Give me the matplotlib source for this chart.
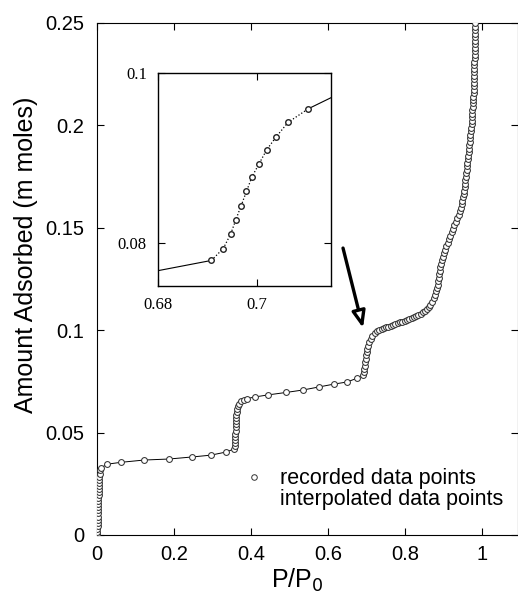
import matplotlib
matplotlib.use("Agg")
import matplotlib.pyplot as plt
from matplotlib.lines import Line2D

plt.rcParams['font.family'] = ['Liberation Sans', 'DejaVu Sans']

# ---- recorded data (P/P0, amount adsorbed) ----
x_step1 = [0.0005, 0.0010, 0.0012, 0.0015, 0.0018, 0.0020, 0.0022, 0.0025, 0.0027, 0.0030,
           0.0032, 0.0035, 0.0037, 0.0040, 0.0043, 0.0046, 0.0050, 0.0054, 0.0058, 0.0063,
           0.0070, 0.0080, 0.0100]
y_step1 = [0.0005, 0.0015, 0.0030, 0.0045, 0.0060, 0.0075, 0.0090, 0.0105, 0.0120, 0.0135,
           0.0150, 0.0165, 0.0180, 0.0195, 0.0210, 0.0225, 0.0240, 0.0255, 0.0270, 0.0285,
           0.0300, 0.0315, 0.0328]

x_plat1 = [0.027, 0.063, 0.122, 0.187, 0.247, 0.296, 0.335, 0.356]
y_plat1 = [0.0346, 0.0355, 0.0366, 0.0371, 0.0381, 0.0390, 0.0405, 0.0420]

x_step2 = [0.3580, 0.3585, 0.3590, 0.3592, 0.3595, 0.3600, 0.3603, 0.3607, 0.3610, 0.3615,
           0.3620, 0.3630, 0.3640, 0.3660, 0.3690]
y_step2 = [0.0435, 0.0450, 0.0465, 0.0480, 0.0495, 0.0510, 0.0525, 0.0540, 0.0555, 0.0570,
           0.0585, 0.0600, 0.0615, 0.0630, 0.0642]

x_plat2 = [0.375, 0.381, 0.390, 0.410, 0.444, 0.491, 0.535, 0.577, 0.616, 0.649, 0.675]
y_plat2 = [0.0652, 0.0660, 0.0666, 0.0674, 0.0684, 0.0696, 0.0708, 0.0723, 0.0737, 0.0747, 0.0765]

x_step3 = [0.6908, 0.6932, 0.6947, 0.6957, 0.6968, 0.6979, 0.6990, 0.7004, 0.7020, 0.7039,
           0.7063, 0.7104]
y_step3 = [0.0780, 0.0794, 0.0811, 0.0827, 0.0844, 0.0861, 0.0878, 0.0893, 0.0910, 0.0925,
           0.0942, 0.0958]

x_plat3 = [0.715, 0.721, 0.727, 0.733, 0.739, 0.745, 0.751, 0.757, 0.763, 0.769,
           0.775, 0.781, 0.787, 0.793, 0.799, 0.805, 0.811, 0.817, 0.823, 0.829,
           0.835, 0.841, 0.847, 0.852, 0.857, 0.862, 0.866, 0.870]
y_plat3 = [0.0971, 0.0988, 0.0995, 0.1001, 0.1006, 0.1010, 0.1014, 0.1018, 0.1022, 0.1026,
           0.1030, 0.1034, 0.1038, 0.1042, 0.1046, 0.1050, 0.1054, 0.1058, 0.1063, 0.1068,
           0.1074, 0.1080, 0.1087, 0.1095, 0.1104, 0.1114, 0.1125, 0.1138]

x_rise = [0.875, 0.878, 0.881, 0.883, 0.885, 0.887, 0.888, 0.889, 0.891, 0.892,
          0.894, 0.896, 0.898, 0.901, 0.904, 0.907, 0.911, 0.914, 0.918, 0.921,
          0.925, 0.928, 0.932, 0.935, 0.939, 0.942, 0.945, 0.947, 0.949, 0.951,
          0.952, 0.953, 0.955, 0.956, 0.957, 0.958, 0.959, 0.960, 0.961, 0.962,
          0.963, 0.964, 0.965, 0.966, 0.967, 0.968, 0.969, 0.970, 0.971, 0.972,
          0.973, 0.974, 0.974, 0.975, 0.975, 0.976, 0.976, 0.977, 0.977, 0.978,
          0.978, 0.978, 0.979, 0.979, 0.979, 0.980, 0.980, 0.980, 0.980, 0.981,
          0.981, 0.981, 0.981, 0.981, 0.982, 0.982, 0.982, 0.982, 0.982, 0.982]
y_rise = [0.1155, 0.1172, 0.1189, 0.1206, 0.1223, 0.1240, 0.1257, 0.1274, 0.1291, 0.1308,
          0.1325, 0.1342, 0.1359, 0.1376, 0.1393, 0.1410, 0.1427, 0.1444, 0.1461, 0.1478,
          0.1495, 0.1512, 0.1529, 0.1546, 0.1563, 0.1580, 0.1597, 0.1614, 0.1631, 0.1648,
          0.1665, 0.1682, 0.1699, 0.1716, 0.1733, 0.1750, 0.1767, 0.1784, 0.1801, 0.1818,
          0.1835, 0.1852, 0.1869, 0.1886, 0.1903, 0.1920, 0.1937, 0.1954, 0.1971, 0.1988,
          0.2005, 0.2022, 0.2039, 0.2056, 0.2073, 0.2090, 0.2107, 0.2124, 0.2141, 0.2158,
          0.2175, 0.2192, 0.2209, 0.2226, 0.2243, 0.2260, 0.2277, 0.2294, 0.2311, 0.2328,
          0.2345, 0.2362, 0.2379, 0.2396, 0.2413, 0.2430, 0.2447, 0.2464, 0.2481, 0.2498]

x_rec = [0.0] + x_step1 + x_plat1 + x_step2 + x_plat2 + x_step3 + x_plat3 + x_rise
y_rec = [0.0] + y_step1 + y_plat1 + y_step2 + y_plat2 + y_step3 + y_plat3 + y_rise

# inset line end values (interpolated curve at inset edges)
inset_x_ends = [0.68, 0.715]
inset_y_ends = [0.0768, 0.0971]

main_xticks = [0, 0.2, 0.4, 0.6, 0.8, 1.0]
main_xticklabels = ['0', '0.2', '0.4', '0.6', '0.8', '1']
main_yticks = [0, 0.05, 0.1, 0.15, 0.2, 0.25]
main_yticklabels = ['0', '0.05', '0.1', '0.15', '0.2', '0.25']

W, H = 518, 598
fig = plt.figure(figsize=(W / 100, H / 100), dpi=100)
ax = fig.add_axes([97 / W, 1 - 535 / H, (518 - 97) / W, (535 - 23) / H])

ax.plot(x_rec, y_rec, '-', color='black', lw=0.7, zorder=2)
ax.plot(x_rec, y_rec, 'o', ms=4.2, mfc='white', mec='#333333', mew=0.75, zorder=3)

ax.set_xlim(0, 1.0935)
ax.set_ylim(0, 0.25)
ax.set_xticks(main_xticks)
ax.set_xticklabels(main_xticklabels)
ax.set_yticks(main_yticks)
ax.set_yticklabels(main_yticklabels)
ax.tick_params(direction='in', top=True, right=True, length=5, width=0.8,
               labelsize=14.5, pad=9)
ax.tick_params(axis='x', pad=7)
for s in ax.spines.values():
    s.set_linewidth(0.8)
ax.set_xlabel('P/P$_0$', fontsize=18)
ax.set_ylabel('Amount Adsorbed (m moles)', fontsize=18)
ax.xaxis.set_label_coords(0.475, -0.063)
ax.yaxis.set_label_coords(-0.14, 0.547)

# legend
h1 = Line2D([], [], marker='o', ls='none', ms=4, mfc='white', mec='#333333', mew=0.7)
h2 = Line2D([], [], ls='none', marker='none')
ax.legend([h1, h2], ['recorded data points', 'interpolated data points'],
          loc='lower left', bbox_to_anchor=(0.327, 0.027), frameon=False,
          fontsize=15.5, handlelength=0.8, handletextpad=0.8, labelspacing=0.0,
          borderpad=0)

# arrow
ax.annotate('', xy=(0.691, 0.1011), xytext=(0.639, 0.1401),
            arrowprops=dict(arrowstyle='-|>,head_length=1.0,head_width=0.4',
                            lw=2.4, color='black', fc='white', shrinkA=0, shrinkB=0))

# inset
ins = fig.add_axes([158 / W, 1 - 286 / H, (331 - 158) / W, (286 - 73) / H])
ins.plot([inset_x_ends[0], x_step3[0]], [inset_y_ends[0], y_step3[0]], '-', color='black', lw=0.8)
ins.plot([x_step3[-1], inset_x_ends[1]], [y_step3[-1], inset_y_ends[1]], '-', color='black', lw=0.8)
ins.plot(x_step3, y_step3, ':', color='black', lw=0.9)
ins.plot(x_step3, y_step3, 'o', ms=4.0, mfc='white', mec='#222222', mew=1.0)
ins.set_xlim(0.68, 0.715)
ins.set_ylim(0.075, 0.1)
ins.set_xticks([0.68, 0.7])
ins.set_xticklabels(['0.68', '0.7'])
ins.set_yticks([0.08, 0.1])
ins.set_yticklabels(['0.08', '0.1'])
ins.tick_params(direction='in', top=True, right=True, length=5, width=0.8, labelsize=12, pad=8)
for lab in ins.get_xticklabels() + ins.get_yticklabels():
    lab.set_family(['Liberation Serif', 'DejaVu Serif'])
for s in ins.spines.values():
    s.set_linewidth(1.0)

fig.savefig('out.png', dpi=100)
